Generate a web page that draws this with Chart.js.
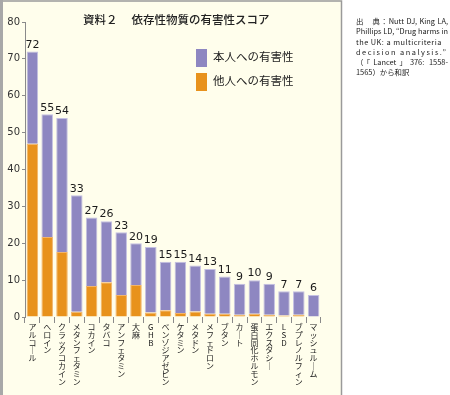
<!DOCTYPE html>
<html>
<head>
<meta charset="utf-8">
<script src="https://cdn.jsdelivr.net/npm/chart.js@4.4.1/dist/chart.umd.min.js"></script>
<style>
	body { margin: 0; background: #fff; }
	#wrap { position: relative; width: 450px; height: 395px; font-family: "Noto Sans CJK JP", sans-serif; color: #222; }
	#harmChart { position: absolute; left: 0; top: 0; }
	.title { position: absolute; left: 83px; top: 11px; font-size: 11.5px; font-weight: 500; white-space: nowrap; }
	.legend { position: absolute; left: 196px; font-size: 11.5px; white-space: nowrap; }
	.legend span { display: inline-block; width: 11px; height: 18px; vertical-align: middle; margin-right: 6px; }
	.source { position: absolute; left: 356px; top: 16px; width: 92px; font-size: 7.4px; line-height: 10.3px; }
	.source div { text-align: justify; text-align-last: justify; white-space: nowrap; }
	.source div.left { text-align-last: left; }
</style>
</head>
<body>
<div id="wrap">
	<canvas id="harmChart" width="450" height="395"></canvas>
	<div class="title">資料２　 依存性物質の有害性スコア</div>
	<div class="legend" style="top:48px"><span style="background:#8e87c1"></span>本人への有害性</div>
	<div class="legend" style="top:72px"><span style="background:#e8921c"></span>他人への有害性</div>
	<div class="source">
		<div>出　典：Nutt DJ, King LA,</div>
		<div>Phillips LD, “Drug harms in</div>
		<div class="left" style="letter-spacing:0.45px">the UK: a multicriteria</div>
		<div class="left" style="letter-spacing:1.5px">decision analysis.”</div>
		<div>（「Lancet」376: 1558-</div>
		<div class="left">1565）から和訳</div>
	</div>
</div>
<script>
const categories = ["アルコール", "ヘロイン", "クラックコカイン", "メタンフェタミン", "コカイン", "タバコ", "アンフェタミン", "大麻", "GHB", "ベンゾジアゼピン", "ケタミン", "メタドン", "メフェドロン", "ブタン", "カート", "蛋白同化ホルモン", "エクスタシー", "LSD", "ブプレノルフィン", "マッシュルーム"];
const totalScores = [72, 55, 54, 33, 27, 26, 23, 20, 19, 15, 15, 14, 13, 11, 9, 10, 9, 7, 7, 6];
const othersScores = [47, 21.7, 17.6, 1.4, 8.4, 9.4, 6, 8.7, 1.2, 1.8, 1.1, 1.5, 0.9, 0.9, 0.6, 0.9, 0.6, 0.4, 0.6, 0];
const yTicks = [0, 10, 20, 30, 40, 50, 60, 70, 80];

// 本人への有害性 = total - others
const selfScores = totalScores.map((t, i) => t - othersScores[i]);
// vertical writing: one character per line
const verticalLabels = categories.map((s) => s.replace(/ー/g, "｜").split(""));

const panel = {
	id: "panel",
	beforeDraw(chart) {
		const c = chart.ctx;
		c.save();
		c.fillStyle = "#fffeec";
		c.fillRect(0, 0, 342, 395);
		c.strokeStyle = "#9a9a9a";
		c.lineWidth = 1.5;
		c.beginPath();
		c.moveTo(1, 395);
		c.lineTo(1, 1);
		c.lineTo(341.5, 1);
		c.lineTo(341.5, 395);
		c.stroke();
		c.fillStyle = "#a8a8a8";
		c.fillRect(0, 0, 3, 395);
		c.restore();
	},
};

const totals = {
	id: "totals",
	afterDatasetsDraw(chart) {
		const c = chart.ctx;
		const meta = chart.getDatasetMeta(1);
		const y = chart.scales.y;
		c.save();
		c.font = "11px 'DejaVu Sans'";
		c.fillStyle = "#1a1a1a";
		c.textAlign = "center";
		c.textBaseline = "bottom";
		meta.data.forEach((bar, i) => {
			c.fillText(totalScores[i], bar.x, y.getPixelForValue(totalScores[i]) - 1);
		});
		c.restore();
	},
};

const ctx = document.getElementById("harmChart").getContext("2d");
new Chart(ctx, {
	type: "bar",
	data: {
		labels: verticalLabels,
		datasets: [
			{
				label: "他人への有害性",
				data: othersScores,
				backgroundColor: "#e8921c",
				borderColor: "#f2b46a",
				borderWidth: 1,
			},
			{
				label: "本人への有害性",
				data: selfScores,
				backgroundColor: "#8e87c1",
				borderColor: "#c4c0e2",
				borderWidth: 1,
			},
		],
	},
	options: {
		responsive: false,
		animation: false,
		layout: { padding: { top: 22, right: 129, left: 0, bottom: 0 } },
		datasets: { bar: { categoryPercentage: 1, barPercentage: 0.78 } },
		plugins: { legend: { display: false }, tooltip: { enabled: false } },
		scales: {
			x: {
				stacked: true,
				afterFit: (s) => { s.height = 78; },
				border: { display: false },
				grid: { drawOnChartArea: false, tickLength: 6, color: "#8a8a8a" },
				ticks: {
					autoSkip: false,
					maxRotation: 0,
					minRotation: 0,
					padding: 0,
					color: "#222",
					font: { family: "Noto Sans CJK JP", size: 8, lineHeight: "7.8px" },
				},
			},
			y: {
				stacked: true,
				min: 0,
				max: 80,
				afterFit: (s) => { s.width = 25; },
				afterBuildTicks: (s) => { s.ticks = yTicks.map((v) => ({ value: v })); },
				border: { color: "#8a8a8a", width: 1 },
				grid: { drawOnChartArea: false, tickLength: 3, color: "#8a8a8a" },
				ticks: { padding: 2, color: "#333", font: { family: "DejaVu Sans", size: 10 } },
			},
		},
	},
	plugins: [panel, totals],
});
</script>
</body>
</html>
